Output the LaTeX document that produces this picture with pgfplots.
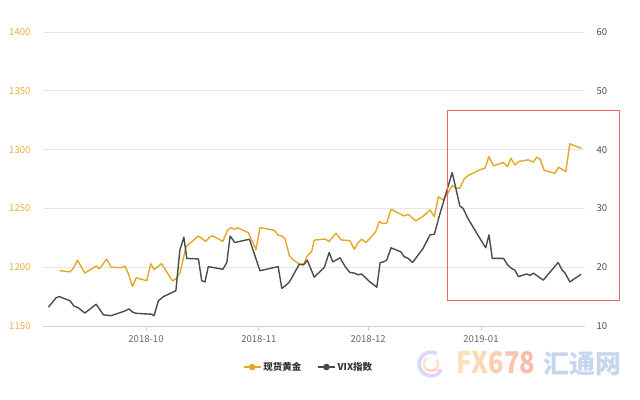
\documentclass[border=0pt]{standalone}
\usepackage{fontspec}
\setmainfont{Noto Sans CJK SC}
\usepackage{pgfplots}
\pgfplotsset{compat=1.18}

\definecolor{goldline}{HTML}{E2A924}
\definecolor{goldlabel}{HTML}{E8AE3C}
\definecolor{vixline}{HTML}{4B4B4B}
\definecolor{gridgray}{HTML}{E6E6E6}
\definecolor{axisblue}{HTML}{C6D4E6}
\definecolor{ticktext}{HTML}{666666}
\definecolor{boxred}{HTML}{F06464}

\pgfplotsset{
  base/.style={
    at={(43bp,74bp)}, anchor=south west,
    scale only axis, width=542bp, height=294bp,
    xmin=-28.29, xmax=120.57,
    /pgf/number format/assume math mode=true,
    /pgf/number format/set thousands separator={},
    tick label style={font=\fontsize{9.6}{11}\selectfont},
  },
  legimg/.style={
    legend image code/.code={
      \draw[##1, mark=none] (0bp,0bp) -- (17bp,0bp);
      \fill[##1] (8.5bp,0bp) circle (2.6bp);
    }
  },
}

\begin{document}
\begin{tikzpicture}
\path[use as bounding box] (0,0) rectangle (640bp,400bp);

% spot gold, left axis
\begin{axis}[
  base,
  ymin=1150, ymax=1400,
  ytick={1150,1200,...,1400},
  xtick={0,31,61,92},
  xticklabels={2018-10,2018-11,2018-12,2019-01},
  axis x line*=bottom, axis y line*=left,
  x axis line style={color=axisblue, line width=0.8bp, -},
  y axis line style={draw=none},
  xtick align=outside, major tick length=5bp,
  xtick style={color=axisblue, line width=0.8bp},
  ytick style={draw=none},
  ymajorgrids, grid style={color=gridgray, line width=0.8bp},
  xticklabel style={text=ticktext, yshift=-1bp},
  yticklabel style={text=goldlabel, xshift=-9bp},
  legend style={at={(0.49,-0.1395)}, anchor=center, draw=none, fill=none,
    font=\fontsize{9.5}{10}\selectfont\bfseries, text=black!80,
    /tikz/every even column/.append style={column sep=14bp}},
  legend columns=2, legimg,
  clip=false,
]
\addplot[goldline, line width=1.4bp, line join=round] coordinates {
(-23.8,1197.1)(-20.9,1196)(-20.0,1199)(-18.8,1206)(-16.8,1195)(-13.7,1201)
(-12.8,1198.5)(-10.8,1207)(-9.6,1200)(-6.7,1199.6)(-5.8,1201)(-4.9,1195)
(-3.7,1183.5)(-2.7,1191)(0.2,1188.5)(1.3,1203)(2.2,1198)(4.3,1203)
(7.2,1188.5)(8.2,1190)(9.3,1195)(11.0,1217.5)(14.4,1226.6)(16.4,1222)
(17.6,1226)(18.3,1226.6)(21.1,1222)(22.4,1231.5)(23.3,1233.6)(24.3,1232.3)
(25.1,1233.6)(28.1,1229.4)(30.2,1215)(31.3,1233.6)(35.2,1231.5)(36.2,1227.4)
(37.3,1226.6)(38.2,1224)(39.4,1209.6)(40.5,1206)(42.3,1202.5)(43.2,1201.3)
(44.3,1209.8)(45.5,1213.3)(46.2,1223)(49.2,1224)(50.3,1221.7)(51.0,1224.6)
(52.2,1228.9)(53.6,1223.2)(56.0,1222.6)(57.2,1215.3)(58.3,1221)(59.2,1223.8)
(60.4,1221)(61.5,1224.6)(63.1,1230.3)(64.1,1238.8)(64.9,1237.4)(66.1,1237.4)
(67.3,1249.3)(69.8,1245.3)(70.9,1243.6)(72.0,1244.9)(74.1,1239.4)(76.2,1243.6)
(78.0,1248.7)(79.2,1243)(80.3,1260)(81.5,1257.2)(82.6,1261.5)(84.1,1269.4)
(85.1,1267.2)(86.2,1267.2)(87.4,1275.2)(88.5,1278)(91.7,1282.8)(93.1,1284.2)
(94.2,1294.1)(95.4,1286.2)(98.1,1289)(99.3,1285.6)(100.2,1292.7)(101.3,1287)
(102.4,1289.9)(105.0,1291.3)(106.4,1289.3)(107.3,1293.6)(108.2,1291.9)
(109.4,1282.2)(112.3,1279.9)(113.3,1285)(115.3,1281.3)(116.4,1304.9)(119.5,1301.2)
};
\addlegendentry{现货黄金}
\addlegendimage{vixline, line width=1.4bp}
\addlegendentry{VIX指数}
\end{axis}

% VIX, right axis
\begin{axis}[
  base,
  ymin=10, ymax=60,
  ytick={10,20,...,60},
  axis x line=none, axis y line*=right,
  y axis line style={draw=none},
  ytick style={draw=none},
  yticklabel style={text=vixline, xshift=8bp},
]
\addplot[vixline, line width=1.4bp, line join=round] coordinates {
(-26.8,13.2)(-24.7,14.8)(-23.8,15.0)(-20.9,14.3)(-19.8,13.4)(-18.6,13.1)
(-16.8,12.2)(-13.7,13.7)(-11.7,11.9)(-9.6,11.75)(-5.8,12.55)(-4.7,12.9)
(-3.5,12.3)(-2.6,12.15)(1.6,12.0)(2.2,11.75)(3.4,14.3)(4.8,15.0)(8.2,16.0)
(9.3,22.9)(10.4,25.1)(11.2,21.5)(14.4,21.4)(15.3,17.7)(16.2,17.5)(17.1,20.1)
(21.1,19.65)(22.2,20.8)(23.1,25.3)(24.4,24.2)(28.4,24.75)(31.3,19.4)
(36.3,20.1)(37.3,16.4)(38.2,16.8)(39.4,17.5)(42.1,20.5)(43.4,20.5)(44.3,21.2)
(46.2,18.3)(49.0,20.0)(50.3,22.5)(51.3,20.9)(53.3,21.6)(54.7,20.1)(56.0,19.1)
(57.2,19.0)(58.3,18.7)(59.2,18.85)(61.5,17.5)(63.4,16.6)(64.3,20.8)(65.2,20.9)
(66.1,21.2)(67.3,23.3)(70.0,22.6)(70.9,21.8)(72.0,21.5)(73.2,20.8)(76.1,23.2)
(78.0,25.5)(79.2,25.6)(80.5,28.6)(84.1,36.1)(86.2,30.4)(87.1,30.0)(88.4,28.3)
(91.7,24.9)(93.3,23.3)(94.2,25.5)(95.1,21.5)(98.2,21.5)(99.3,20.4)(100.4,19.8)
(101.3,19.5)(102.3,18.4)(104.6,18.85)(105.5,18.6)(106.4,19.0)(107.3,18.6)
(109.1,17.8)(113.2,20.8)(114.3,19.5)(115.0,19.1)(116.4,17.5)(119.5,18.8)
};
\end{axis}

% highlight box around the recent period
\draw[boxred, line width=0.9bp] (447.7bp,290bp) rectangle (619.3bp,100bp);

% watermark
\begin{scope}[opacity=0.45]
  \draw[color=blue!35, line width=3.5bp] (431bp,36bp) ++(60:12bp) arc (60:330:12bp);
  \draw[color=orange!45, line width=3bp] (431bp,36bp) ++(120:7bp) arc (120:400:7bp);
  \draw[color=red!30, line width=2.5bp] (427bp,30bp) -- (440bp,30bp);
\end{scope}
\node[anchor=west, inner sep=0pt, font=\fontsize{30}{31}\selectfont\bfseries, xscale=0.86, opacity=0.85]
  at (456bp,37bp) {\textcolor[HTML]{FCDDAA}{F}\textcolor[HTML]{FBD2A6}{X}\textcolor[HTML]{FAC6A3}{6}\textcolor[HTML]{F9BAA1}{7}\textcolor[HTML]{F8AFA0}{8}};
\node[anchor=west, inner sep=0pt, font=\fontsize{26}{28}\selectfont\bfseries, opacity=0.85]
  at (543bp,36bp) {\textcolor[HTML]{BDCFEA}{汇通网}};
\end{tikzpicture}
\end{document}
